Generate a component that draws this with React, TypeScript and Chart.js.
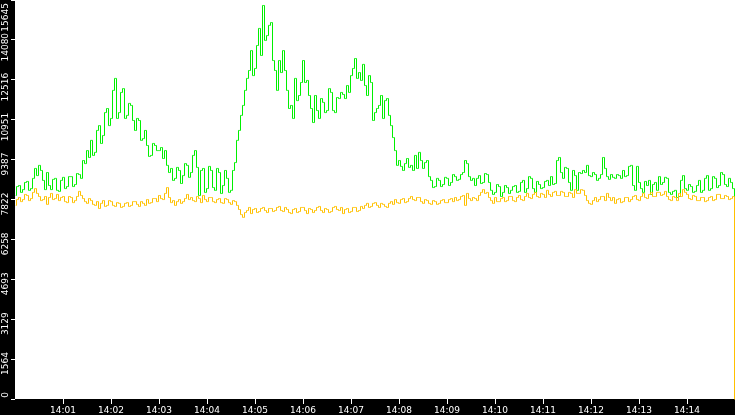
import { Chart, registerables } from "chart.js";
import { useEffect, useRef } from "react";

Chart.register(...registerables);

// one sample every 2.5 seconds, starting at 14:00:00
const STEP_SECONDS = 2.5;

const timeTicks = [
  "14:01", "14:02", "14:03", "14:04", "14:05", "14:06", "14:07",
  "14:08", "14:09", "14:10", "14:11", "14:12", "14:13", "14:14",
];
const yTicks = [0, 1564, 3129, 4693, 6258, 7822, 9387, 10951, 12516, 14080, 15645];
const yMax = 15645;

const green = [
  8000, 8350, 8390, 8120, 8230, 8510, 8550, 8200, 8270, 8670,
  9060, 8780, 9180, 8980, 8590, 8230, 8900, 8390, 8230, 8630,
  8670, 8200, 8160, 8590, 8710, 8270, 8350, 8740, 8740, 8350,
  8430, 8860, 8820, 8670, 9370, 9250, 9760, 9490, 10160, 9570,
  9690, 10550, 10740, 10040, 10350, 11250, 11410, 10740, 11020, 12120,
  12590, 11020, 11250, 12040, 12190, 11020, 11140, 11610, 11530, 10940,
  10550, 11020, 10940, 10160, 10230, 10550, 9960, 9530, 9570, 10040,
  9960, 9760, 9760, 9880, 9450, 9760, 9180, 8900, 9060, 8590,
  8670, 9100, 8980, 8470, 8780, 9250, 9180, 8710, 8900, 9570,
  9760, 9100, 8000, 8980, 9060, 8120, 8270, 9140, 8980, 8310,
  8200, 9060, 8900, 8080, 8390, 8980, 8670, 8120, 8200, 8980,
  9290, 10160, 10550, 11140, 11530, 12120, 12590, 12900, 13680, 12700,
  12980, 13880, 14550, 13490, 15450, 14080, 14270, 14670, 14780, 13290,
  12900, 12120, 13290, 12820, 13680, 12900, 12120, 11410, 11530, 11020,
  12590, 11720, 11920, 12430, 13290, 12430, 12510, 11920, 11410, 10860,
  11920, 11330, 11020, 11800, 11650, 11250, 11330, 12190, 12040, 11330,
  11250, 11840, 11800, 12040, 11960, 11800, 12310, 12040, 12700, 12980,
  13370, 12590, 12820, 12510, 13140, 12310, 11920, 12700, 12430, 10940,
  11250, 11410, 11530, 11920, 11020, 11720, 11800, 11140, 10740, 10270,
  9760, 9180, 9370, 9140, 8980, 9250, 9450, 9100, 9180, 8980,
  9570, 9060, 9690, 9370, 9060, 9290, 9370, 8740, 8590, 8310,
  8350, 8670, 8590, 8350, 8430, 8710, 8670, 8390, 8510, 8820,
  8740, 8590, 8630, 8820, 8900, 9370, 9250, 8740, 8590, 8670,
  8390, 8670, 8780, 8470, 8510, 8860, 8820, 8510, 8200, 8040,
  8120, 8430, 8350, 7960, 8120, 8390, 8310, 8080, 8200, 8350,
  8390, 8120, 8160, 8510, 8590, 8120, 8270, 8740, 8670, 8270,
  8120, 8550, 8430, 8270, 8310, 8550, 8590, 8390, 8740, 8430,
  8470, 9370, 9490, 8900, 8670, 9100, 9060, 8510, 8200, 8980,
  8780, 8200, 8900, 8860, 8980, 8900, 9180, 8780, 8740, 8900,
  8820, 8590, 8670, 8820, 9490, 9060, 8740, 8630, 8820, 8710,
  8670, 8820, 8780, 8670, 8980, 8740, 8780, 9140, 9180, 8390,
  8200, 9140, 8510, 8270, 8120, 8550, 8390, 8590, 8040, 8430,
  8510, 8200, 8740, 8430, 8510, 8710, 8670, 8120, 8040, 8160,
  8200, 7920, 7960, 8590, 8780, 8270, 8200, 8430, 8350, 8120,
  8160, 8390, 8590, 8120, 8200, 8670, 8780, 8200, 8270, 8740,
  8670, 8310, 8390, 8900, 8820, 8430, 8350, 8670, 8510, 8270,
  4000,
];

const orange = [
  7610, 7840, 7920, 7760, 7840, 8040, 8000, 7800, 7880, 8120,
  8270, 8080, 7960, 7800, 7840, 7960, 7650, 7920, 8080, 7840,
  7880, 8040, 7800, 7920, 7960, 7760, 7720, 7960, 7920, 7720,
  7800, 7960, 8160, 8000, 7880, 7760, 7690, 7880, 7800, 7650,
  7610, 7760, 7490, 7690, 7800, 7570, 7610, 7800, 7760, 7610,
  7570, 7720, 7690, 7530, 7570, 7690, 7720, 7570, 7610, 7760,
  7760, 7650, 7570, 7760, 7690, 7610, 7840, 7690, 7720, 7880,
  7880, 7760, 8000, 7880, 7840, 8080, 8310, 7920, 7720, 7800,
  7610, 7760, 7840, 7690, 7760, 7880, 8040, 7840, 7920, 7800,
  7760, 7960, 7880, 7720, 8000, 7840, 7760, 7920, 7920, 7760,
  7720, 7840, 7880, 7720, 7690, 7880, 7840, 7720, 7650, 7800,
  7760, 7610, 7450, 7250, 7140, 7330, 7410, 7530, 7290, 7450,
  7490, 7330, 7370, 7490, 7530, 7410, 7330, 7490, 7490, 7370,
  7410, 7530, 7570, 7410, 7370, 7530, 7450, 7330, 7290, 7450,
  7490, 7330, 7370, 7530, 7530, 7410, 7290, 7490, 7450, 7330,
  7410, 7530, 7570, 7410, 7330, 7490, 7450, 7330, 7370, 7530,
  7570, 7450, 7410, 7530, 7290, 7450, 7490, 7330, 7370, 7530,
  7530, 7370, 7410, 7570, 7490, 7610, 7690, 7530, 7570, 7690,
  7720, 7610, 7530, 7690, 7650, 7570, 7530, 7690, 7760, 7650,
  7840, 7720, 7690, 7840, 7880, 7720, 7760, 7880, 7960, 7840,
  7800, 7920, 7920, 7760, 7690, 7840, 7800, 7690, 7650, 7800,
  7760, 7650, 7690, 7800, 7840, 7720, 7720, 7840, 7880, 7760,
  7920, 7800, 7840, 7960, 8000, 7610, 8080, 7880, 7800, 7920,
  7880, 7800, 8000, 8120, 8230, 8080, 8120, 7920, 7800, 7690,
  7920, 7760, 7760, 7880, 7920, 7760, 7800, 7960, 7960, 7800,
  7760, 7920, 8000, 7840, 7800, 7960, 8080, 7920, 7880, 8040,
  8120, 7960, 7920, 8080, 8040, 7920, 8200, 8040, 7960, 8120,
  8160, 8000, 8000, 8160, 8120, 7960, 7960, 8120, 8080, 7920,
  8230, 8080, 8080, 8230, 8200, 8000, 7800, 7690, 7650, 7800,
  7920, 7760, 7840, 7960, 7960, 7800, 8080, 7920, 7800, 7920,
  7690, 7840, 7880, 7720, 7760, 7920, 7920, 7760, 7840, 7960,
  8000, 7840, 7800, 7960, 8080, 7920, 7880, 8040, 8120, 7960,
  7960, 8120, 8120, 8000, 8040, 8160, 7960, 7840, 7800, 7960,
  7920, 7800, 8080, 7960, 8230, 8120, 8040, 7880, 7840, 8000,
  7960, 7800, 7800, 7920, 7920, 7760, 7800, 7920, 7960, 7800,
  7840, 8040, 8040, 7880, 7880, 8000, 7960, 7840, 7880, 7960,
  0,
];

const toPoints = (values: number[]) =>
  values.map((y, i) => ({ x: i * STEP_SECONDS, y }));

const minuteOf = (label: string) => parseInt(label.split(":")[1], 10) * 60;

const tickFont = { family: "'DejaVu Sans', sans-serif", size: 9 };

// black frame around a white plot area, plus the rotated value labels
const framePlugin = {
  id: "frame",
  beforeDraw(chart: any) {
    const { ctx, chartArea, width, height } = chart;
    ctx.save();
    ctx.fillStyle = "#000";
    ctx.fillRect(0, 0, width, height);
    ctx.fillStyle = "#fff";
    ctx.fillRect(
      chartArea.left,
      chartArea.top,
      chartArea.right - chartArea.left,
      chartArea.bottom - chartArea.top
    );
    ctx.restore();
  },
  // half-pixel shift so the 1px vertical strokes stay sharp
  beforeDatasetsDraw(chart: any) {
    chart.ctx.save();
    chart.ctx.translate(0.5, 0.5);
  },
  afterDatasetsDraw(chart: any) {
    chart.ctx.restore();
  },
  afterDraw(chart: any) {
    const { ctx, chartArea } = chart;
    const yScale = chart.scales.y;
    ctx.save();
    ctx.fillStyle = "#fff";
    ctx.font = "9px 'DejaVu Sans', sans-serif";
    ctx.textAlign = "right";
    ctx.textBaseline = "middle";
    yTicks.forEach((v) => {
      const label = String(v);
      const w = ctx.measureText(label).width;
      let top = yScale.getPixelForValue(v) - 7;
      top = Math.min(Math.max(top, 3), chartArea.bottom - w);
      ctx.save();
      ctx.translate(6, top);
      ctx.rotate(-Math.PI / 2);
      ctx.fillText(label, 0, 0);
      ctx.restore();
    });
    ctx.restore();
  },
};

const App = () => {
  const canvasRef = useRef<HTMLCanvasElement | null>(null);
  const chartRef = useRef<Chart | null>(null);

  useEffect(() => {
    if (chartRef.current) {
      chartRef.current.destroy();
    }
    if (!canvasRef.current) return;

    chartRef.current = new Chart(canvasRef.current, {
      type: "line",
      data: {
        datasets: [
          {
            label: "orange",
            data: toPoints(orange),
            borderColor: "#ffc000",
            borderWidth: 1,
            pointRadius: 0,
            stepped: "middle",
          },
          {
            label: "green",
            data: toPoints(green),
            borderColor: "#00f000",
            borderWidth: 1,
            pointRadius: 0,
            stepped: "middle",
          },
        ],
      },
      options: {
        animation: false,
        responsive: false,
        events: [],
        layout: { padding: 0 },
        plugins: {
          legend: { display: false },
          tooltip: { enabled: false },
        },
        scales: {
          x: {
            type: "linear",
            min: 0,
            max: 900,
            afterBuildTicks: (scale: any) => {
              scale.ticks = timeTicks.map((l) => ({ value: minuteOf(l) }));
            },
            afterFit: (scale: any) => {
              scale.height = 16;
            },
            grid: {
              drawOnChartArea: false,
              drawTicks: true,
              tickLength: 5,
              tickColor: "#fff",
              tickWidth: 1,
            },
            border: { display: false },
            ticks: {
              color: "#fff",
              font: tickFont,
              padding: 1,
              maxRotation: 0,
              autoSkip: false,
              callback: (_v: any, i: number) => timeTicks[i],
            },
          },
          y: {
            type: "linear",
            min: 0,
            max: yMax,
            afterBuildTicks: (scale: any) => {
              scale.ticks = yTicks.map((v) => ({ value: v }));
            },
            afterFit: (scale: any) => {
              scale.width = 15;
            },
            grid: {
              drawOnChartArea: false,
              drawTicks: true,
              tickLength: 4,
              tickColor: "#fff",
              tickWidth: 1,
            },
            border: { display: false },
            ticks: { display: false },
          },
        },
      },
      plugins: [framePlugin],
    });

    return () => {
      if (chartRef.current) {
        chartRef.current.destroy();
        chartRef.current = null;
      }
    };
  }, []);

  return (
    <div style={{ position: "absolute", left: 0, top: 0, width: 735, height: 415 }}>
      <canvas ref={canvasRef} width={735} height={415} style={{ display: "block" }} />
    </div>
  );
};

export default App;
